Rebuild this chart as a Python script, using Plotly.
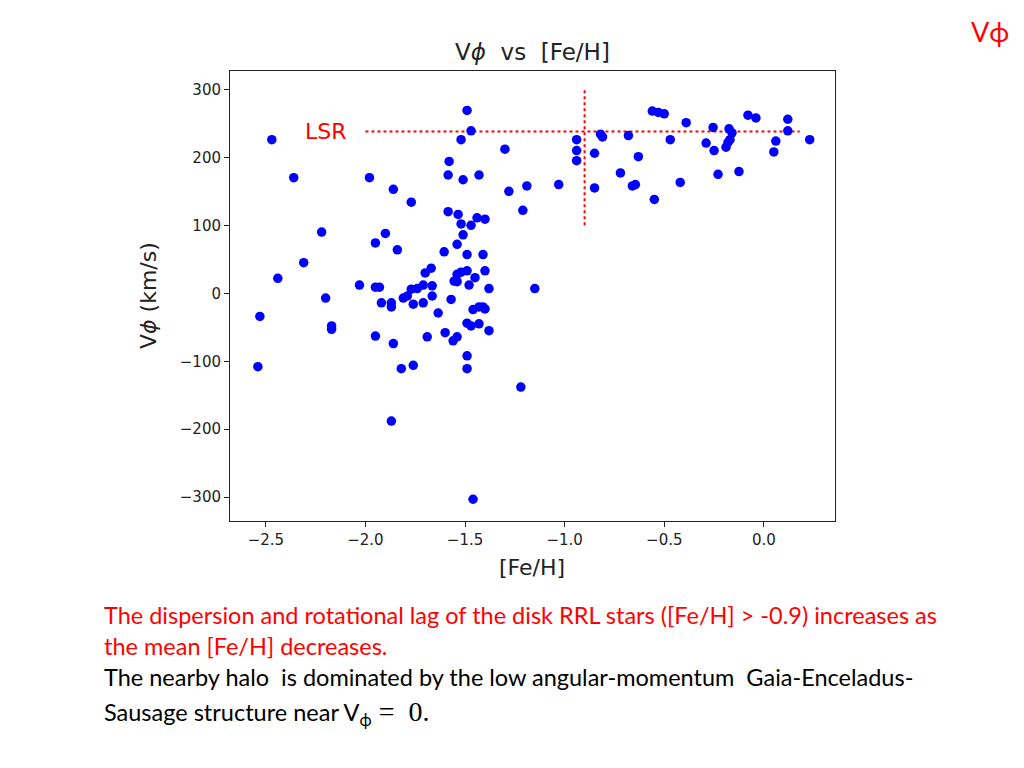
import plotly.graph_objects as go

# ---- data ----
feh = [
    -2.47, -2.36, -1.98, -1.86, -1.77, -2.22, -1.90, -1.95, -1.84, -2.31,
    -2.44, -2.03, -1.95, -1.93, -1.70, -1.67, -2.20, -2.53, -2.17, -2.17,
    -1.95, -1.86, -1.69, -2.54, -1.82, -1.76, -1.87, -1.77, -1.74, -1.71,
    -1.665, -1.81, -1.79, -1.92, -1.87, -1.87, -1.76, -1.71, -1.665, -1.635,
    -1.585, -1.535, -1.44, -1.40, -1.52, -1.47, -1.21, -1.51, -1.54, -1.605,
    -1.49, -1.41, -1.54, -1.52, -1.49, -1.555, -1.54, -1.45, -1.40, -1.48,
    -1.38, -1.15, -1.57, -1.46, -1.43, -1.41, -1.40, -1.49, -1.47, -1.43,
    -1.38, -1.60, -1.56, -1.54, -1.49, -1.49, -1.22, -1.46, -1.49, -1.47,
    -1.52, -1.30, -1.58, -1.585, -1.51, -1.43, -1.19, -1.28, -1.03,
    -0.94, -0.94, -0.94, -0.85, -0.85, -0.82, -0.81, -0.72, -0.68, -0.63,
    -0.66, -0.645, -0.55, -0.56, -0.53, -0.50, -0.47, -0.42, -0.39, -0.29,
    -0.25, -0.255, -0.23, -0.175, -0.16, -0.17, -0.18, -0.19, -0.125, -0.08,
    -0.04, 0.05, 0.06, 0.12, 0.12, 0.23,
]
vphi = [
    226, 170, 170, 153, 134, 90, 88, 74, 64, 45,
    22, 12, 9, 9, 30, 37, -7, -34, -48, -53,
    -63, -74, -64, -108, -111, -106, -188, 6, 7, 12,
    11, -7, -4, -14, -14, -20, -16, -14, -4, -29,
    120, 116, 111, 109, 102, 100, 122, 86, 72, 61,
    57, 57, 28, 31, 33, 18, 17, 23, 33, 12,
    7, 7, -9, -24, -20, -20, -23, -44, -48, -45,
    -55, -58, -70, -64, -92, -111, -138, -303, 269, 239,
    226, 212, 194, 174, 167, 174, 158, 150, 160,
    226, 210, 195, 206, 155, 234, 230, 177, 232, 201,
    158, 160, 138, 268, 266, 264, 226, 163, 251, 221,
    210, 244, 175, 242, 236, 226, 222, 215, 179, 262,
    258, 208, 224, 256, 239, 226,
]

lsr_feh = [-2.0, 0.18]
lsr_v = [238, 238]
cut_feh = [-0.9, -0.9]
cut_v = [100, 300]

x_ticks = [-2.5, -2.0, -1.5, -1.0, -0.5, 0.0]
y_ticks = [-300, -200, -100, 0, 100, 200, 300]

# ---- layout geometry (pixels, page coordinates; page body has an 8px margin) ----
OFF = 8
W, H = 1024 - 2 * OFF, 768 - 2 * OFF
L, R, T, B = 230 - OFF, 835 - OFF, 71 - OFF, 521 - OFF


def px(x):
    return (x - OFF - L) / (R - L)


def py(y):
    return (B - (y - OFF)) / (B - T)


fig = go.Figure()
fig.add_trace(go.Scatter(x=lsr_feh, y=lsr_v, mode="lines",
                         line=dict(color="#ff0000", width=2, dash="dot"),
                         hoverinfo="skip", showlegend=False))
fig.add_trace(go.Scatter(x=cut_feh, y=cut_v, mode="lines",
                         line=dict(color="#ff0000", width=2, dash="dot"),
                         hoverinfo="skip", showlegend=False))
fig.add_trace(go.Scatter(x=feh, y=vphi, mode="markers",
                         marker=dict(color="#0000ff", size=9.5, line=dict(width=0)),
                         showlegend=False))

axis_common = dict(
    showgrid=False, zeroline=False, showline=True, mirror=True,
    linecolor="#222222", linewidth=1, ticks="outside", ticklen=5,
    tickcolor="#222222", tickwidth=1,
    tickfont=dict(family="DejaVu Sans", size=15, color="#222222"),
)

fig.update_layout(
    width=W, height=H, autosize=False,
    margin=dict(l=L, r=W - R, t=T, b=H - B, pad=0),
    paper_bgcolor="white", plot_bgcolor="white",
    xaxis=dict(range=[-2.68, 0.357], tickvals=x_ticks, tickformat=".1f", **axis_common),
    yaxis=dict(range=[-335, 327], tickvals=y_ticks, **axis_common),
)

ann = []
# title
ann.append(dict(text="V<i>ϕ</i>  vs  [Fe/H]", x=px(532), y=py(52), xref="paper", yref="paper",
                xanchor="center", yanchor="middle", showarrow=False,
                font=dict(family="DejaVu Sans", size=23, color="#222222")))
# axis labels
ann.append(dict(text="[Fe/H]", x=px(532), y=py(567), xref="paper", yref="paper",
                xanchor="center", yanchor="middle", showarrow=False,
                font=dict(family="DejaVu Sans", size=22, color="#222222")))
ann.append(dict(text="V<i>ϕ</i> (km/s)", x=px(148), y=py(296), xref="paper", yref="paper",
                xanchor="center", yanchor="middle", showarrow=False, textangle=-90,
                font=dict(family="DejaVu Sans", size=22, color="#222222")))
# LSR label
ann.append(dict(text="LSR", x=-2.196, y=238, xref="x", yref="y",
                xanchor="center", yanchor="middle", showarrow=False,
                font=dict(family="DejaVu Sans", size=22, color="#ff0000")))
# top-right corner
ann.append(dict(text="Vϕ", x=px(990), y=py(31), xref="paper", yref="paper",
                xanchor="center", yanchor="middle", showarrow=False,
                font=dict(family="Lato", size=27, color="#ff0000")))
# bottom text
body_font = "Lato"
lines = [
    ("The dispersion and rotational lag of the disk RRL stars ([Fe/H] &gt; -0.9) increases as", 615, "#ff0000"),
    ("the mean [Fe/H] decreases.", 646, "#ff0000"),
    ("The nearby halo  is dominated by the low angular-momentum  Gaia-Enceladus-", 677, "#000000"),
    ("Sausage structure near V<sub>ϕ</sub>"
     "<span style=\"font-family:'Liberation Serif';font-size:28px;color:#000000\"> =  0.</span>", 713, "#000000"),
]
for txt, yy, col in lines:
    ann.append(dict(text=txt, x=px(102), y=py(yy), xref="paper", yref="paper",
                    xanchor="left", yanchor="middle", showarrow=False,
                    font=dict(family=body_font, size=23.5, color=col)))

fig.update_layout(annotations=ann)
fig.write_html("out.html")
